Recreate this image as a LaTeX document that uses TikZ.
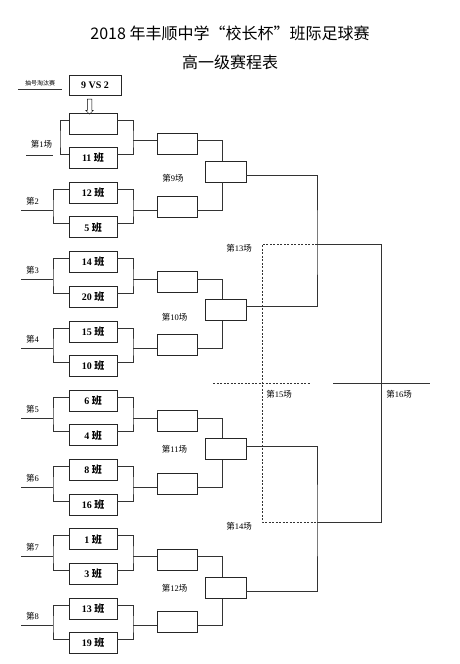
\documentclass[tikz,border=0pt]{standalone}
\usepackage{fontspec}
\setmainfont{Liberation Serif}
\newfontfamily\cjk{Noto Sans CJK SC}
\usetikzlibrary{calc}
\usetikzlibrary{shapes.arrows}
\newcommand{\ban}{{\cjk 班}}
\newcommand{\di}[1]{{\cjk 第}#1}
\newcommand{\chang}[1]{{\cjk 第}#1{\cjk 场}}

\begin{document}
\begin{tikzpicture}[x=1pt, y=-1pt,
		team/.style={draw=black!85, line width=0.8pt, minimum width=48pt, minimum height=21pt, inner sep=0pt, font=\bfseries\fontsize{10}{12}\selectfont},
		slot/.style={draw=black!85, line width=0.8pt, minimum width=40pt, minimum height=21pt, inner sep=0pt},
		link/.style={draw=black!80, line width=0.8pt},
		thirdline/.style={draw=black!80, line width=0.7pt, dash pattern=on 2pt off 1.5pt},
		tag/.style={inner sep=0pt, font=\fontsize{8.5}{10}\selectfont}]
	\useasboundingbox (0,0) rectangle (459,664);
	% titles
	\node[font=\cjk\fontsize{16}{19}\selectfont] (title) at (230,33) {2018 年丰顺中学“校长杯”班际足球赛};
	\node[font=\cjk\fontsize{16}{19}\selectfont] (subtitle) at (230,62) {高一级赛程表};
	% playoff
	\node[team, minimum width=52pt, minimum height=20pt] (vs) at (95,85) {9 VS 2};
	\node[inner sep=0pt, font=\cjk\fontsize{6}{7}\selectfont] (lottery) at (40,83) {抽号淘汰赛};
	\draw[link, line width=0.5pt] ([xshift=-7pt,yshift=-3pt]lottery.south west) -- ([xshift=7pt,yshift=-3pt]lottery.south east);
	\node[single arrow, draw, line width=0.5pt, rotate=-90, inner sep=2pt, minimum height=15pt, single arrow head extend=1.5pt] (drop) at (89.5,105.5) {};
	% third round
	\foreach \m [evaluate=\m as \qy using 171.5+138.7*(\m-1)] in {1,...,4} {
		\node[slot, minimum width=41pt] (q\m) at (225.5,\qy) {};
	}
	% first and second round
	\foreach \up/\dn [count=\i, evaluate=\i as \ty using 123.5+69.3*(\i-1), evaluate=\i as \cy using 140.75+69.3*(\i-1),
			evaluate=\i as \sy using {140.75+69.3*(\i-1)+(mod(\i,2)==1 ? 3 : -3.5)},
			evaluate=\i as \bx using {\i==1 ? 60 : 53}, evaluate=\i as \m using {int(ceil(\i/2))}]
			in {{}/{11 \ban}, {12 \ban}/{5 \ban}, {14 \ban}/{20 \ban}, {15 \ban}/{10 \ban},
				{6 \ban}/{4 \ban}, {8 \ban}/{16 \ban}, {1 \ban}/{3 \ban}, {13 \ban}/{19 \ban}} {
		\node[team] (t\i) at (93,\ty) {\up};
		\node[team] (b\i) at (93,{\ty+34.5}) {\dn};
		\node[slot] (s\i) at (177,\sy) {};
		\coordinate (k\i) at (\bx,\cy);
		\coordinate (j\i) at (133,\cy);
		\draw[link] ([yshift=3.5pt]t\i.west) -| (k\i) |- ([yshift=3.5pt]b\i.west);
		\draw[link] ([yshift=3.5pt]t\i.east) -| (j\i) |- ([yshift=3.5pt]b\i.east);
		\draw[link] (j\i) -- (s\i.west |- j\i);
		\ifodd\i
			\draw[link] (s\i.east |- j\i) -| ([xshift=-3.5pt]q\m.north);
		\else
			\draw[link] (s\i.east |- j\i) -| ([xshift=-3.5pt]q\m.south);
		\fi
		\ifnum\i>1
			\coordinate (in\i) at (21,\cy);
			\draw[link] (in\i) -- (k\i);
			\node[tag, anchor=south west] (lbl\i) at (26,{\cy-5}) {\di{\i}};
		\fi
	}
	\coordinate (in1) at (26,155);
	\coordinate (in1e) at (53,155);
	\draw[link] (in1) -- (in1e);
	\node[tag] (lbl1) at (41.5,144) {\chang{1}};
	% semi finals
	\coordinate (semi1) at (317,244);
	\coordinate (semi2) at (317,522);
	\draw[link] ([yshift=-3.5pt]q1.east) -| (semi1) |- ([yshift=3.5pt]q2.east);
	\draw[link] ([yshift=2.5pt]q3.east) -| (semi2) |- ([yshift=-3.5pt]q4.east);
	% final
	\coordinate (fin1) at (381,244);
	\coordinate (fin2) at (381,522);
	\coordinate (champL) at (333,383);
	\coordinate (champR) at (430,383);
	\draw[link] (semi1) -- (fin1) -- (fin2) -- (semi2);
	\draw[link] (champL) -- (champR);
	% third place
	\coordinate (bronze1) at (262,244);
	\coordinate (bronze2) at (262,522);
	\coordinate (bronzeL) at (213,383);
	\coordinate (bronzeR) at (310,383);
	\draw[thirdline] (semi1) -- (bronze1) -- (bronze2) -- (semi2);
	\draw[thirdline] (bronzeL) -- (bronzeR);
	% match labels
	\node[tag] (m9) at (173,178) {\chang{9}};
	\node[tag] (m10) at (174.5,317) {\chang{10}};
	\node[tag] (m11) at (174.5,449) {\chang{11}};
	\node[tag] (m12) at (174.5,588) {\chang{12}};
	\node[tag] (m13) at (239,248) {\chang{13}};
	\node[tag] (m14) at (239,526) {\chang{14}};
	\node[tag] (m15) at (279,394) {\chang{15}};
	\node[tag] (m16) at (399,394) {\chang{16}};
\end{tikzpicture}
\end{document}
